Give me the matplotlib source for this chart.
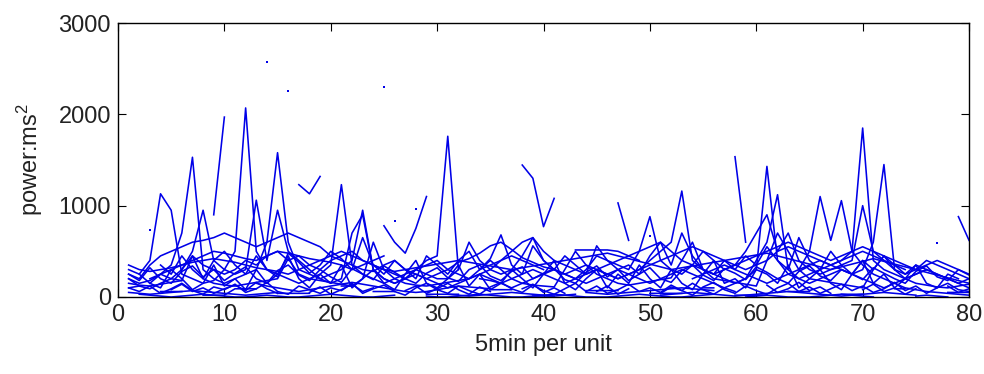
import numpy as np
import matplotlib
matplotlib.use("Agg")
import matplotlib.pyplot as plt

plt.rcParams['font.family'] = ['Liberation Sans', 'DejaVu Sans']
plt.rcParams['mathtext.fontset'] = 'custom'
plt.rcParams['mathtext.rm'] = 'Liberation Sans'
plt.rcParams['mathtext.it'] = 'Liberation Sans:italic'

n = np.nan

s01 = [300,250,400,1130,950,250,200,150,180,300,
       500,2070,500,300,250,200,150,200,250,350,
       1230,350,250,200,150,200,250,300,400,450,
       1760,300,n,200,180,150,200,250,300,250,
       200,150,200,250,300,250,200,250,300,400,
       500,600,1160,400,300,250,200,150,200,300,
       1430,400,250,200,250,300,350,400,500,1850,
       400,300,250,200,250,300,250,200,150,200]
s02 = [200,150,180,250,350,700,1530,300,200,150,
       200,250,300,600,1580,600,300,250,200,250,
       300,400,950,300,200,150,200,250,200,150,
       100,150,200,250,200,150,100,150,200,250,
       300,250,200,150,200,250,300,250,200,150,
       200,250,300,250,200,150,100,150,200,400,
       600,1120,300,200,150,200,250,300,250,300,
       600,1450,300,n,n,n,n,n,n,n]
s03 = [100,120,90,150,200,180,n,n,900,1970,
       n,n,150,120,100,80,60,80,100,120,
       140,160,140,120,100,80,60,50,60,80,
       100,120,110,100,90,n,n,1445,1300,770,
       1080,n,n,50,40,30,40,50,60,70,
       80,90,100,90,80,70,n,1536,600,n,
       n,n,n,300,500,1100,620,1055,500,350,
       250,200,150,100,80,60,50,40,30,20]
s04 = [50,40,30,40,50,60,70,60,50,40,
       30,20,30,40,50,n,1230,1130,1320,n,
       n,n,n,n,780,600,480,750,1100,n,
       30,20,10,20,30,40,50,40,30,20,
       10,20,30,n,n,n,1030,620,n,n,
       20,30,40,50,40,30,20,10,20,30,
       40,50,60,50,40,30,20,10,20,30,
       40,50,40,30,20,n,n,n,880,620]
s05 = [250,200,350,450,500,550,600,620,650,700,
       650,600,550,600,650,700,650,600,550,450,
       400,350,300,280,350,400,300,250,200,250,
       300,380,420,480,560,600,520,430,380,330,
       300,250,300,350,300,250,200,250,300,350,
       400,450,500,550,500,450,400,350,300,350,
       400,500,550,500,450,400,350,400,450,500,
       450,400,350,300,n,n,n,n,n,n]
s06 = [n,n,150,250,200,300,450,350,300,250,
       300,400,350,450,500,400,450,350,300,400,
       450,500,400,350,300,250,200,300,350,400,
       300,250,200,250,300,400,500,600,650,500,
       400,350,300,250,300,350,400,450,500,550,
       600,500,400,350,300,250,300,350,400,450,
       500,550,600,550,500,450,400,450,500,550,
       500,450,400,350,300,350,400,350,300,250]
s07 = [n,n,200,250,300,350,400,450,500,480,
       450,420,400,450,500,480,450,420,400,380,
       350,300,350,400,450,n,n,n,n,n,
       n,n,n,300,350,400,450,400,350,300,
       n,n,515,515,515,515,500,450,400,n,
       n,n,n,200,250,300,350,300,250,200,
       150,200,250,300,350,400,350,300,250,200,
       150,100,150,200,250,300,250,200,150,100]
s08 = [100,60,120,40,90,150,70,30,110,80,
       140,50,90,160,60,30,120,80,40,100,
       70,150,40,90,130,60,20,100,150,80,
       40,120,70,30,110,160,90,50,130,70,
       30,90,150,60,120,40,80,140,60,100,
       50,130,70,20,110,160,80,40,120,70,
       30,100,150,60,110,40,90,140,70,120,
       50,90,160,70,120,40,100,150,80,60]
s09 = [250,180,320,200,150,280,340,220,300,180,
       260,330,200,150,290,350,240,180,300,220,
       160,310,250,190,340,270,200,150,260,320,
       210,170,300,350,230,180,280,330,200,260,
       310,190,150,270,340,220,300,180,250,320,
       200,160,290,350,240,180,310,260,190,330,
       270,200,150,280,340,230,180,300,250,190,
       320,260,200,150,280,340,220,180,300,240]
s10 = [n,30,20,10,0,10,20,30,20,10,
       0,0,10,20,10,0,0,10,20,30,
       20,10,0,0,10,20,n,n,10,0,
       0,10,20,30,20,10,0,0,10,20,
       30,20,10,0,0,0,10,20,30,20,
       10,0,0,10,20,30,n,n,0,10,
       20,10,0,0,0,10,20,30,20,10,
       0,n,n,n,10,20,10,0,n,n]
s11 = [150,130,120,140,160,180,450,200,150,130,
       120,140,160,180,200,420,250,200,180,160,
       140,120,200,600,300,200,150,130,120,140,
       160,180,200,300,400,300,200,150,130,120,
       110,300,500,350,250,200,150,130,150,170,
       190,210,400,600,300,200,180,160,140,120,
       400,700,500,300,200,180,160,140,120,100,
       300,450,300,200,150,130,110,100,120,140]
s12 = [n,n,n,n,n,300,500,950,400,300,
       250,300,1060,400,950,500,400,300,200,150,
       200,700,900,300,200,150,200,300,250,200,
       200,300,600,400,300,250,300,450,650,400,
       300,250,200,300,450,400,350,300,500,880,
       400,300,250,350,500,400,300,350,500,700,
       900,500,700,400,300,250,300,350,400,1000,
       500,400,300,250,300,400,350,300,250,200]
s13 = [200,120,n,n,80,140,60,100,40,90,
       130,70,160,90,40,n,n,50,110,30,
       80,140,60,100,n,n,70,120,40,90,
       150,80,30,110,60,n,n,90,140,50,
       100,40,n,n,60,120,30,90,n,n,
       40,110,70,150,80,30,100,60,n,n,
       130,50,90,160,70,110,40,n,n,80,
       140,60,100,30,90,n,n,120,50,90]
s14 = [350,300,280,300,320,350,380,400,420,400,
       380,350,320,300,280,250,300,350,400,450,
       500,450,400,350,300,280,300,320,340,360,
       380,400,380,360,340,320,300,320,340,360,
       380,400,420,440,460,480,450,420,390,360,
       330,300,320,340,360,380,400,420,440,460,
       480,450,420,390,360,330,300,330,360,390,
       420,390,360,330,300,270,240,210,180,150]
s15 = [n,n,n,350,250,450,300,200,400,500,
       350,250,450,300,220,480,380,260,350,500,
       420,300,650,350,250,400,300,200,450,350,
       250,400,500,300,420,680,350,250,560,400,
       300,450,350,250,560,400,300,350,250,450,
       600,350,700,450,300,250,400,300,450,350,
       550,400,300,650,400,300,500,350,250,400,
       300,450,350,250,350,300,n,n,n,n]
s16 = [n,250,150,100,300,200,80,150,350,120,
       200,80,300,150,250,450,200,100,250,150,
       350,100,200,300,150,80,250,400,150,100,
       200,350,120,250,80,150,300,200,100,250,
       400,150,80,200,300,100,250,150,350,200,
       100,300,150,80,250,400,150,200,100,300,
       250,150,350,100,200,300,150,80,250,400,
       150,250,100,200,350,150,100,250,200,n]
s17 = [n,n,n,60,60,60,n,20,20,20,
       90,90,90,n,40,40,40,40,n,n,
       120,120,n,60,60,60,n,n,30,30,
       30,30,n,n,80,80,80,n,10,10,
       10,n,n,70,70,70,70,n,n,40,
       40,40,40,n,100,100,n,20,20,20,
       20,n,60,60,60,n,n,30,30,30,
       n,n,90,90,n,n,n,50,50,50]

series = [s01, s02, s03, s04, s05, s06, s07, s08, s09,
          s10, s11, s12, s13, s14, s15, s16, s17]

# isolated samples
dots_x = [14, 16, 25, 3, 26, 28, 50, 77]
dots_y = [2577, 2256, 2300, 735, 835, 965, 670, 590]

x_ticks = [0, 10, 20, 30, 40, 50, 60, 70, 80]
y_ticks = [0, 1000, 2000, 3000]

fig = plt.figure(figsize=(9.84, 3.74), dpi=100)
ax = fig.add_axes([0.1199, 0.2059, 0.8649, 0.7326])

for s in series:
    y = np.array(s, dtype=float)
    x = np.arange(1, len(y) + 1)
    ax.plot(x, y, color='#0000e8', linewidth=1.15)
ax.plot(dots_x, dots_y, linestyle='none', marker='s', markersize=2.0,
        color='#0000e8', markeredgewidth=0)

ax.set_xlim(0, 80)
ax.set_ylim(0, 3000)
ax.set_xticks(x_ticks)
ax.set_yticks(y_ticks)
ax.tick_params(direction='in', top=True, right=True, length=6, width=0.8,
               labelsize=17, pad=5, labelcolor='#222222')
for sp in ax.spines.values():
    sp.set_linewidth(1.0)
ax.set_xlabel('5min per unit', fontsize=17, labelpad=6, color='#222222')
ax.set_ylabel('power:ms$^2$', fontsize=17, labelpad=10, color='#222222')

fig.savefig('out.png', dpi=100)
